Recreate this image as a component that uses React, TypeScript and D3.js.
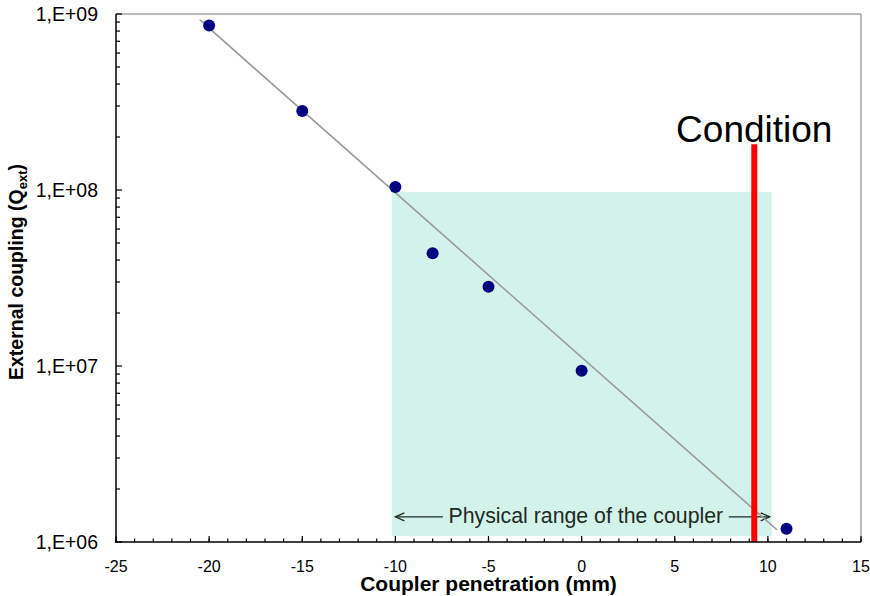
import React from "react";
import * as d3 from "d3";

// Measured coupler penetration (mm) vs. external quality factor
const penetration = [-20, -15, -10, -8, -5, 0, 11];
const qExt = [8.6e8, 2.81e8, 1.04e8, 4.37e7, 2.82e7, 9.4e6, 1.19e6];

// Exponential trend line end points
const trendPenetration = [-20.5, 10.5];
const trendQ = [9.25e8, 1.17e6];

// Physical range of the coupler (shaded band) and its arrows
const rangePenetration = [-10.2, 10.2];
const rangeQ = [1.08e6, 9.75e7];
const leftArrow = [-7.45, -10];
const rightArrow = [7.9, 10.1];
const rangeLabel = "Physical range of the coupler";
const rangeLabelQ = 1.39e6;

// Condition marker
const conditionPenetration = 9.27;
const conditionTopQ = 1.82e8;
const conditionLabel = "Condition";

// Axes
const xDomain = [-25, 15];
const xTickValues = [-25, -20, -15, -10, -5, 0, 5, 10, 15];
const yDomain = [1e6, 1e9];
const yTickValues = [1e6, 1e7, 1e8, 1e9];
const xTitle = "Coupler penetration (mm)";

const W = 870;
const H = 596;
const M = { left: 116, right: 9, top: 14, bottom: 54 };
const FONT = "'Liberation Sans', Arial, Helvetica, sans-serif";

const fmtY = (v: number) => {
  const e = Math.round(Math.log10(v));
  return `1,E+${String(e).padStart(2, "0")}`;
};

function Arrow({ x1, x2, y }: { x1: number; x2: number; y: number }) {
  const dir = Math.sign(x2 - x1);
  const head = 9;
  return (
    <g stroke="#1e2a24" strokeWidth={1.3} fill="none">
      <line x1={x1} y1={y} x2={x2} y2={y} />
      <polyline
        points={`${x2 - dir * head},${y - 4} ${x2},${y} ${x2 - dir * head},${y + 4}`}
      />
    </g>
  );
}

export default function App() {
  const x = d3.scaleLinear().domain(xDomain).range([M.left, W - M.right]);
  const y = d3.scaleLog().domain(yDomain).range([H - M.bottom, M.top]);

  const x0 = x.range()[0];
  const x1 = x.range()[1];
  const yb = y.range()[0];
  const yt = y.range()[1];

  const xMinor = d3.range(xDomain[0], xDomain[1] + 1, 1);
  const yMinor: number[] = [];
  for (let k = 6; k < 9; k++) {
    for (let d = 2; d <= 9; d++) yMinor.push(d * Math.pow(10, k));
  }

  const trendLine = d3
    .line<number>()
    .x((_, i) => x(trendPenetration[i]))
    .y((q) => y(q))(trendQ) as string;

  const arrowY = y(rangeLabelQ);

  return (
    <div style={{ position: "absolute", left: 0, top: 0 }}>
      <svg width={W} height={H} style={{ display: "block", background: "#fff" }}>
        {/* shaded band */}
        <rect
          x={x(rangePenetration[0])}
          y={y(rangeQ[1])}
          width={x(rangePenetration[1]) - x(rangePenetration[0])}
          height={y(rangeQ[0]) - y(rangeQ[1])}
          fill="#d3f3ea"
        />

        {/* frame: top and right in grey */}
        <line x1={x0} y1={yt} x2={x1} y2={yt} stroke="#a6a6a6" strokeWidth={1.5} />
        <line x1={x1} y1={yt} x2={x1} y2={yb} stroke="#a6a6a6" strokeWidth={1.5} />

        {/* range label with arrows */}
        <text
          x={(x(leftArrow[0]) + x(rightArrow[0])) / 2}
          y={arrowY + 6.5}
          textAnchor="middle"
          fontFamily={FONT}
          fontSize={21.3}
          fill="#1e2a24"
        >
          {rangeLabel}
        </text>
        <Arrow x1={x(leftArrow[0])} x2={x(leftArrow[1])} y={arrowY} />
        <Arrow x1={x(rightArrow[0])} x2={x(rightArrow[1])} y={arrowY} />

        {/* trend line */}
        <path d={trendLine} fill="none" stroke="#9a9a9a" strokeWidth={1.6} />

        {/* condition marker */}
        <line
          x1={x(conditionPenetration)}
          x2={x(conditionPenetration)}
          y1={y(conditionTopQ)}
          y2={yb}
          stroke="#ff0000"
          strokeWidth={6}
        />
        <text
          x={x(conditionPenetration)}
          y={y(conditionTopQ) - 2}
          textAnchor="middle"
          fontFamily={FONT}
          fontSize={37}
          fill="#000"
        >
          {conditionLabel}
        </text>

        {/* data points */}
        {penetration.map((p, i) => (
          <circle key={i} cx={x(p)} cy={y(qExt[i])} r={6} fill="#000080" />
        ))}

        {/* y axis */}
        <line x1={x0} y1={yt} x2={x0} y2={yb + 0.75} stroke="#000" strokeWidth={1.5} />
        {yMinor.map((v) => (
          <line key={"ym" + v} x1={x0} x2={x0 + 4} y1={y(v)} y2={y(v)} stroke="#000" strokeWidth={1.2} />
        ))}
        {yTickValues.map((v) => (
          <g key={"y" + v}>
            <line x1={x0} x2={x0 + 6} y1={y(v)} y2={y(v)} stroke="#000" strokeWidth={1.2} />
            <text
              x={x0 - 18}
              y={y(v) + 7}
              textAnchor="end"
              fontFamily={FONT}
              fontSize={19.5}
              fill="#000"
            >
              {fmtY(v)}
            </text>
          </g>
        ))}

        {/* x axis */}
        <line x1={x0 - 0.75} y1={yb} x2={x1} y2={yb} stroke="#000" strokeWidth={1.5} />
        {xMinor.map((v) => (
          <line key={"xm" + v} x1={x(v)} x2={x(v)} y1={yb} y2={yb - 3.5} stroke="#000" strokeWidth={1.2} />
        ))}
        {xTickValues.map((v) => (
          <g key={"x" + v}>
            <line x1={x(v)} x2={x(v)} y1={yb} y2={yb - 6} stroke="#000" strokeWidth={1.2} />
            <text
              x={x(v)}
              y={yb + 30}
              textAnchor="middle"
              fontFamily={FONT}
              fontSize={16}
              fill="#000"
            >
              {v}
            </text>
          </g>
        ))}

        {/* axis titles */}
        <text
          x={(x0 + x1) / 2}
          y={H - 5}
          textAnchor="middle"
          fontFamily={FONT}
          fontSize={21}
          fontWeight="bold"
          fill="#000"
        >
          {xTitle}
        </text>
        <text
          transform={`translate(23, ${(yt + yb) / 2 - 6}) rotate(-90)`}
          textAnchor="middle"
          fontFamily={FONT}
          fontSize={19.5}
          fontWeight="bold"
          fill="#000"
        >
          External coupling (Q
          <tspan fontSize={13} dy={4}>
            ext
          </tspan>
          <tspan dy={-4}>)</tspan>
        </text>
      </svg>
    </div>
  );
}
